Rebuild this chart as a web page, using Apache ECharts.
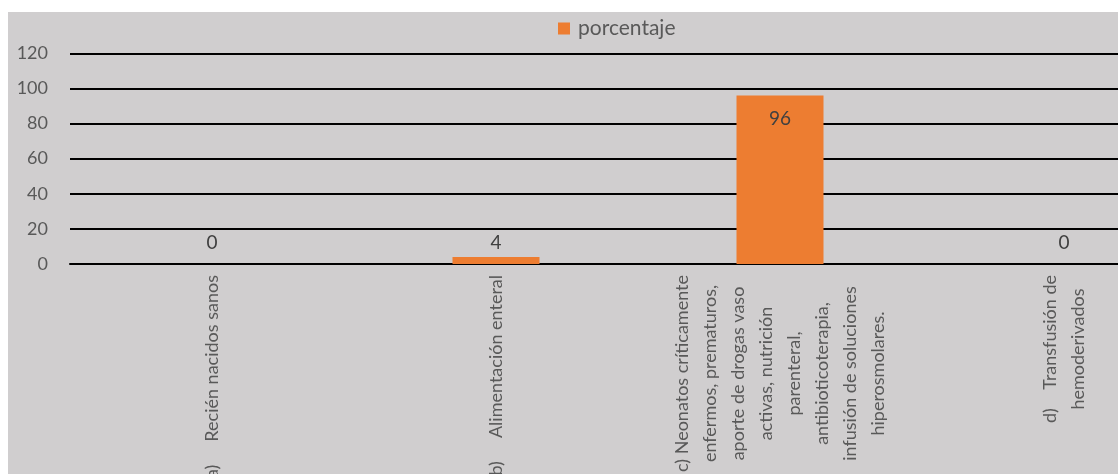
<!DOCTYPE html>
<html>
<head>
<meta charset="utf-8">
<script src="https://cdn.jsdelivr.net/npm/echarts@6/dist/echarts.min.js"></script>
<style>
  html, body { margin: 0; padding: 0; background: #ffffff; }
  #chart { position: absolute; left: 8px; top: 12px; width: 1110px; height: 462px; }
</style>
</head>
<body>
<div id="chart"></div>
<script>
// Category labels (multi-line labels use \n between lines)
const categories = [
  'a)     Recién nacidos sanos',
  'b)     Alimentación enteral',
  'c) Neonatos críticamente\nenfermos, prematuros,\naporte de drogas vaso\nactivas, nutrición\nparenteral,\nantibioticoterapia,\ninfusión de soluciones\nhiperosmolares.',
  'd)    Transfusión de\nhemoderivados'
];
const seriesName = 'porcentaje';
const values = [0, 4, 96, 0];
const yTicks = { min: 0, max: 120, interval: 20 };

const ORANGE = '#ed7d31';
const FONT = 'Lato, "Open Sans", sans-serif';

// Tall bars carry their label inside the top; short ones above
function labelFor(v) {
  if (v >= 50) return { position: 'insideTop', distance: 14 };
  return { position: 'top', distance: v === 0 ? 12 : 5 };
}

const chart = echarts.init(document.getElementById('chart'));
chart.setOption({
  backgroundColor: '#d0cecf',
  animation: false,
  textStyle: { fontFamily: FONT },
  legend: {
    data: [seriesName],
    left: 550,
    top: 6,
    padding: 0,
    itemWidth: 12,
    itemHeight: 12,
    icon: 'rect',
    textStyle: { color: '#595959', fontSize: 21, fontFamily: FONT, padding: [0, 0, 0, 3] }
  },
  grid: { left: 62, right: -88, top: 41.3, bottom: 210, containLabel: false, outerBoundsMode: 'none' },
  xAxis: {
    type: 'category',
    data: categories,
    axisLine: { lineStyle: { color: '#000000', width: 2 } },
    axisTick: { show: false },
    axisLabel: {
      interval: 0,
      rotate: 90,
      margin: 11,
      formatter: function (text) {
        return text.split('\n').map(function (line) { return '{l|' + line + '}'; }).join('\n');
      },
      rich: {
        l: { align: 'center', fontSize: 18, lineHeight: 28, color: '#595959', fontFamily: FONT }
      }
    }
  },
  yAxis: {
    type: 'value',
    min: yTicks.min,
    max: yTicks.max,
    interval: yTicks.interval,
    axisLine: { show: false },
    axisTick: { show: false },
    axisLabel: { color: '#595959', fontSize: 18, margin: 22, fontFamily: FONT },
    splitLine: { lineStyle: { color: '#000000', width: 2 } }
  },
  series: [{
    name: seriesName,
    type: 'bar',
    barWidth: 87,
    itemStyle: { color: ORANGE },
    label: { show: true, color: '#404040', fontSize: 19, fontFamily: FONT },
    data: values.map(function (v) { return { value: v, label: labelFor(v) }; })
  }]
});
</script>
</body>
</html>
